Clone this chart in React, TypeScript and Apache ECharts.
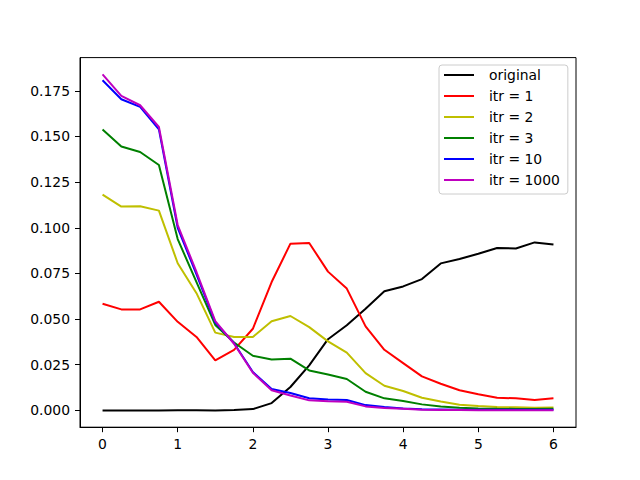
import React, { useEffect, useRef } from "react";
import * as echarts from "echarts";

const xValues = [0, 0.25, 0.5, 0.75, 1, 1.25, 1.5, 1.75, 2, 2.25, 2.5, 2.75, 3, 3.25, 3.5, 3.75, 4, 4.25, 4.5, 4.75, 5, 5.25, 5.5, 5.75, 6];

const original = [0, 0, 0, 0, 0.0001, 0.0001, 0, 0.0002, 0.0007, 0.004, 0.0128, 0.0247, 0.039, 0.0466, 0.0557, 0.0652, 0.0679, 0.0719, 0.0805, 0.0829, 0.0858, 0.0889, 0.0887, 0.092, 0.0908];
const itr1 = [0.0584, 0.0553, 0.0553, 0.0595, 0.0485, 0.0402, 0.0274, 0.0331, 0.0447, 0.0703, 0.0913, 0.0917, 0.076, 0.0667, 0.046, 0.0332, 0.0259, 0.0186, 0.0146, 0.011, 0.0088, 0.0069, 0.0066, 0.0057, 0.0066];
const itr2 = [0.1182, 0.1116, 0.1118, 0.1094, 0.0806, 0.0642, 0.0426, 0.0402, 0.0402, 0.0488, 0.0517, 0.0456, 0.0378, 0.0316, 0.0204, 0.0135, 0.0106, 0.0069, 0.0049, 0.0031, 0.0024, 0.0018, 0.0017, 0.0015, 0.0016];
const itr3 = [0.1538, 0.1445, 0.1415, 0.1344, 0.0938, 0.0703, 0.0468, 0.0372, 0.0299, 0.0279, 0.0283, 0.0219, 0.0197, 0.0172, 0.0102, 0.0066, 0.0051, 0.0033, 0.0022, 0.0015, 0.0011, 0.0009, 0.0008, 0.0008, 0.0009];
const itr10 = [0.1808, 0.1704, 0.1662, 0.1539, 0.1, 0.0745, 0.0482, 0.0368, 0.021, 0.0117, 0.0095, 0.0067, 0.006, 0.0057, 0.0029, 0.0018, 0.0011, 0.0006, 0.0005, 0.0004, 0.0004, 0.0003, 0.0003, 0.0003, 0.0003];
const itr1000 = [0.184, 0.1722, 0.1671, 0.1552, 0.1015, 0.0758, 0.0489, 0.0365, 0.0206, 0.011, 0.0082, 0.0055, 0.005, 0.0047, 0.0022, 0.0013, 0.0009, 0.0004, 0.0002, 0.0002, 0.0001, 0.0001, 0.0001, 0.0001, 0.0001];

const seriesNames = ["original", "itr = 1", "itr = 2", "itr = 3", "itr = 10", "itr = 1000"];
const seriesValues = [original, itr1, itr2, itr3, itr10, itr1000];
const seriesColors = ["#000000", "#ff0000", "#bfbf00", "#008000", "#0000ff", "#bf00bf"];

const xTicks = [0, 1, 2, 3, 4, 5, 6];
const yTicks = [0, 0.025, 0.05, 0.075, 0.1, 0.125, 0.15, 0.175];

const FONT = "DejaVu Sans";
const FS = 13.9;

export default function App() {
  const ref = useRef<HTMLDivElement>(null);
  useEffect(() => {
    if (!ref.current) return;
    const chart = echarts.init(ref.current, null, { renderer: "svg" });
    chart.setOption({
      animation: false,
      backgroundColor: "#ffffff",
      textStyle: { fontFamily: FONT },
      grid: {
        left: 80,
        right: 64,
        top: 57.6,
        bottom: 52.8,
        show: true,
        borderColor: "#000000",
        borderWidth: 1,
        backgroundColor: "transparent",
      },
      legend: {
        orient: "vertical",
        left: 439,
        top: 65,
        data: seriesNames,
        icon: "rect",
        itemWidth: 30,
        itemHeight: 2,
        itemGap: 7,
        padding: [3, 8, 7, 5],
        backgroundColor: "rgba(255,255,255,0.8)",
        borderColor: "#cccccc",
        borderWidth: 1,
        borderRadius: 3,
        textStyle: {
          fontFamily: FONT,
          fontSize: FS,
          color: "#000000",
          padding: [0, 0, 0, 10],
        },
      },
      xAxis: {
        type: "value",
        min: -0.3,
        max: 6.3,
        splitLine: { show: false },
        axisLine: { show: true, onZero: false, lineStyle: { color: "#000000", width: 1 } },
        axisTick: { show: true, length: 5, customValues: xTicks, lineStyle: { color: "#000000", width: 1 } },
        axisLabel: {
          customValues: xTicks,
          margin: 10,
          fontFamily: FONT,
          fontSize: FS,
          color: "#000000",
          formatter: (v: number) => String(v),
        },
      },
      yAxis: {
        type: "value",
        min: -0.0092,
        max: 0.1932,
        splitLine: { show: false },
        axisLine: { show: true, onZero: false, lineStyle: { color: "#000000", width: 1 } },
        axisTick: { show: true, length: 5, customValues: yTicks, lineStyle: { color: "#000000", width: 1 } },
        axisLabel: {
          customValues: yTicks,
          margin: 10,
          fontFamily: FONT,
          fontSize: FS,
          color: "#000000",
          formatter: (v: number) => v.toFixed(3),
        },
      },
      series: seriesNames.map((name, i) => ({
        name,
        type: "line",
        data: xValues.map((x, j) => [x, seriesValues[i][j]]),
        symbol: "none",
        showSymbol: false,
        color: seriesColors[i],
        lineStyle: { color: seriesColors[i], width: 2 },
        emphasis: { disabled: true },
      })),
    });
    return () => chart.dispose();
  }, []);
  return (
    <div
      ref={ref}
      style={{ position: "fixed", left: 0, top: 0, width: 640, height: 480 }}
    />
  );
}
